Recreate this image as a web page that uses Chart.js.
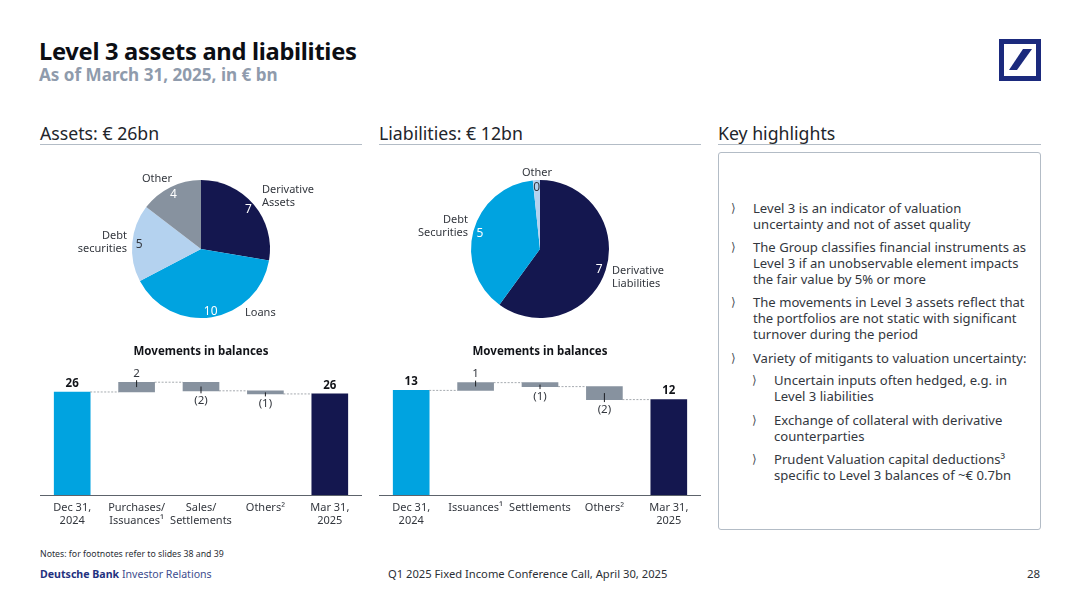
<!DOCTYPE html>
<html>
<head>
<meta charset="utf-8">
<title>Level 3 assets and liabilities</title>
<script src="https://cdn.jsdelivr.net/npm/chart.js@4"></script>
<style>
    html, body { margin: 0; padding: 0; background: #fff; }
    body { width: 1080px; height: 607px; position: relative; overflow: hidden; font-family: 'Noto Sans', sans-serif; color: #2b2f36; }
    canvas { position: absolute; }
    .txt { position: absolute; white-space: nowrap; }
    .title { left: 39px; top: 34px; font-size: 23.7px; line-height: 34px; font-weight: 700; color: #0c0e14; letter-spacing: -0.3px; }
    .subtitle { left: 39px; top: 63px; font-size: 17.1px; line-height: 24px; font-weight: 700; color: #8f9bac; }
    .head { top: 121px; font-size: 17.7px; line-height: 25px; color: #22252b; }
    .rule { position: absolute; top: 144px; height: 1px; background: #b3bcc6; }
    .box { position: absolute; left: 718px; top: 152px; width: 321px; height: 376px; border: 1px solid #b3bcc6; border-radius: 3px; }
    .hl { font-size: 13.1px; line-height: 16.2px; color: #33373e; }
    .chev { font-family: 'DejaVu Sans', sans-serif; font-size: 12px; line-height: 16px; color: #4a4f57; }
    .notes { left: 40px; top: 547px; font-size: 8.75px; line-height: 14px; }
    .brand { left: 40px; top: 566px; font-size: 10.6px; line-height: 16px; color: #3d4d8e; }
    .brand b { color: #1f3180; }
    .event { left: 388px; top: 566px; font-size: 11.2px; line-height: 16px; }
    .page { left: 1027px; top: 566px; font-size: 11.5px; line-height: 16px; }
    #logo { position: absolute; left: 999px; top: 39px; }
</style>
</head>
<body>
<div class="txt title">Level 3 assets and liabilities</div>
<div class="txt subtitle">As of March 31, 2025, in € bn</div>
<svg id="logo" width="42" height="42" viewBox="0 0 42 42">
    <rect x="2.5" y="2.5" width="37" height="37" fill="#fff" stroke="#1b2a7d" stroke-width="5"/>
    <polygon points="10,31 24,10 33,10 18,31" fill="#1b2a7d"/>
</svg>

<div class="txt head" style="left:40px">Assets: € 26bn</div>
<div class="rule" style="left:40px;width:322px"></div>
<div class="txt head" style="left:379px">Liabilities: € 12bn</div>
<div class="rule" style="left:379px;width:322px"></div>
<div class="txt head" style="left:718px">Key highlights</div>
<div class="rule" style="left:718px;width:323px"></div>
<div class="box"></div>

<canvas id="assetsPie" width="320" height="178" style="left:41px;top:160px"></canvas>
<canvas id="liabilitiesPie" width="320" height="178" style="left:380px;top:160px"></canvas>
<canvas id="assetsBars" width="322" height="192" style="left:39.5px;top:343px"></canvas>
<canvas id="liabilitiesBars" width="322" height="192" style="left:379px;top:343px"></canvas>

<div class="txt chev" style="left:731px;top:200px">⟩</div>
<div class="txt hl" style="left:753px;top:200px">Level 3 is an indicator of valuation<br>uncertainty and not of asset quality</div>
<div class="txt chev" style="left:731px;top:239px">⟩</div>
<div class="txt hl" style="left:753px;top:239px">The Group classifies financial instruments as<br>Level 3 if an unobservable element impacts<br>the fair value by 5% or more</div>
<div class="txt chev" style="left:731px;top:294px">⟩</div>
<div class="txt hl" style="left:753px;top:294px">The movements in Level 3 assets reflect that<br>the portfolios are not static with significant<br>turnover during the period</div>
<div class="txt chev" style="left:731px;top:350px">⟩</div>
<div class="txt hl" style="left:753px;top:350px">Variety of mitigants to valuation uncertainty:</div>
<div class="txt chev" style="left:752px;top:372px">⟩</div>
<div class="txt hl" style="left:774px;top:372px">Uncertain inputs often hedged, e.g. in<br>Level 3 liabilities</div>
<div class="txt chev" style="left:752px;top:412px">⟩</div>
<div class="txt hl" style="left:774px;top:412px">Exchange of collateral with derivative<br>counterparties</div>
<div class="txt chev" style="left:752px;top:451px">⟩</div>
<div class="txt hl" style="left:774px;top:451px">Prudent Valuation capital deductions³<br>specific to Level 3 balances of ~€ 0.7bn</div>

<div class="txt notes">Notes: for footnotes refer to slides 38 and 39</div>
<div class="txt brand"><b>Deutsche Bank</b> Investor Relations</div>
<div class="txt event">Q1 2025 Fixed Income Conference Call, April 30, 2025</div>
<div class="txt page">28</div>

<script>
const NAVY = '#14174f';
const CYAN = '#00a3e0';
const LIGHT = '#b4d2ef';
const GREY = '#87929f';
const FONT = "'Noto Sans', sans-serif";
const INK = '#33373e';

const assetCategories = [['Derivative', 'Assets'], ['Loans'], ['Debt', 'securities'], ['Other']];
const assetSlices = [7.2, 10.3, 4.7, 3.8];
const assetPrinted = ['7', '10', '5', '4'];
const assetColors = [NAVY, CYAN, LIGHT, GREY];
const assetPrintedColors = ['#fff', '#fff', INK, '#fff'];

const liabilityCategories = [['Derivative', 'Liabilities'], ['Debt', 'Securities'], ['Other']];
const liabilitySlices = [7.2, 4.6, 0.2];
const liabilityPrinted = ['7', '5', '0'];
const liabilityColors = [NAVY, CYAN, LIGHT];
const liabilityPrintedColors = ['#fff', '#fff', INK];

// waterfalls: running balance after each step
const assetSteps = [['Dec 31,', '2024'], ['Purchases/', 'Issuances¹'], ['Sales/', 'Settlements'], 'Others²', ['Mar 31,', '2025']];
const assetWalk = [26.4, 28.9, 26.7, 25.9, 25.9];
const assetStepLabels = ['26', '2', '(2)', '(1)', '26'];

const liabilitySteps = [['Dec 31,', '2024'], 'Issuances¹', 'Settlements', 'Others²', ['Mar 31,', '2025']];
const liabilityWalk = [12.9, 13.86, 13.37, 11.77, 11.77];
const liabilityStepLabels = ['13', '1', '(1)', '(2)', '12'];

const stepColors = [CYAN, GREY, GREY, GREY, NAVY];

// where the category names sit, px from the pie centre
const assetNameSpots = [
    { x: 61, y: -60, align: 'left' },
    { x: 44, y: 63, align: 'left' },
    { x: -74, y: -14, align: 'right' },
    { x: -44, y: -71, align: 'center' }
];
const liabilityNameSpots = [
    { x: 72, y: 21, align: 'left' },
    { x: -72, y: -30, align: 'right' },
    { x: -3, y: -77, align: 'center' }
];

const pieLabels = {
    id: 'pieLabels',
    afterDatasetsDraw(chart, args, opts) {
        const ctx = chart.ctx;
        const arcs = chart.getDatasetMeta(0).data;
        ctx.save();
        ctx.textBaseline = 'middle';
        arcs.forEach((arc, i) => {
            const mid = (arc.startAngle + arc.endAngle) / 2;
            const r = arc.outerRadius * 0.9;
            ctx.font = '12px ' + FONT;
            ctx.textAlign = 'center';
            ctx.fillStyle = opts.printedColors[i];
            ctx.fillText(opts.printed[i], arc.x + Math.cos(mid) * r, arc.y + Math.sin(mid) * r + 1);

            const spot = opts.spots[i];
            ctx.font = '11px ' + FONT;
            ctx.textAlign = spot.align;
            ctx.fillStyle = INK;
            chart.data.labels[i].forEach((line, n) => {
                ctx.fillText(line, arc.x + spot.x, arc.y + spot.y + n * 13.5 + 0.5);
            });
        });
        ctx.restore();
    }
};

const waterfallMarks = {
    id: 'waterfallMarks',
    afterDatasetsDraw(chart, args, opts) {
        const ctx = chart.ctx;
        const y = chart.scales.y;
        const bars = chart.getDatasetMeta(0).data;
        const walk = opts.walk;
        ctx.save();
        ctx.textAlign = 'center';
        ctx.textBaseline = 'middle';
        bars.forEach((bar, i) => {
            const half = bar.width / 2;
            // dashed connector to the next bar
            if (i < bars.length - 1) {
                ctx.strokeStyle = '#8f959c';
                ctx.lineWidth = 0.8;
                ctx.setLineDash([2, 1.5]);
                ctx.beginPath();
                ctx.moveTo(bar.x + half, y.getPixelForValue(walk[i]));
                ctx.lineTo(bars[i + 1].x - bars[i + 1].width / 2, y.getPixelForValue(walk[i]));
                ctx.stroke();
                ctx.setLineDash([]);
            }
            const total = i === 0 || i === bars.length - 1;
            const from = total ? 0 : walk[i - 1];
            const top = y.getPixelForValue(Math.max(from, walk[i]));
            const bottom = y.getPixelForValue(Math.min(from, walk[i]));
            const mid = (top + bottom) / 2;
            const goingDown = !total && walk[i] < from;
            ctx.fillStyle = INK;
            if (total) {
                ctx.font = 'bold 11.5px ' + FONT;
                ctx.fillStyle = '#111318';
                ctx.fillText(opts.labels[i], bar.x, top - 8.5);
            } else {
                // short leader from the middle of the bar out to the label
                ctx.strokeStyle = '#1c1f24';
                ctx.lineWidth = 1;
                ctx.beginPath();
                ctx.moveTo(bar.x, mid);
                ctx.lineTo(bar.x, goingDown ? bottom + 2.5 : top - 2);
                ctx.stroke();
                ctx.font = '11.5px ' + FONT;
                ctx.fillText(opts.labels[i], bar.x, goingDown ? bottom + 10 : top - 8.5);
            }
        });
        ctx.restore();
    }
};

function drawPie(id, categories, slices, colors, printed, printedColors, spots) {
    new Chart(document.getElementById(id), {
        type: 'pie',
        data: {
            labels: categories,
            datasets: [{ data: slices, backgroundColor: colors, borderWidth: 0 }]
        },
        options: {
            responsive: false,
            animation: false,
            layout: { padding: 20 },
            plugins: {
                legend: { display: false },
                tooltip: { enabled: false },
                pieLabels: { printed: printed, printedColors: printedColors, spots: spots }
            }
        },
        plugins: [pieLabels]
    });
}

function drawWaterfall(id, steps, walk, labels, yMax) {
    const ranges = walk.map((v, i) => (i === 0 || i === walk.length - 1) ? [0, v] : [walk[i - 1], v]);
    new Chart(document.getElementById(id), {
        type: 'bar',
        data: {
            labels: steps,
            datasets: [{ data: ranges, backgroundColor: stepColors, borderWidth: 0, barThickness: 36 }]
        },
        options: {
            responsive: false,
            animation: false,
            layout: { padding: 0 },
            plugins: {
                legend: { display: false },
                tooltip: { enabled: false },
                title: {
                    display: true,
                    text: 'Movements in balances',
                    color: '#111318',
                    font: { family: FONT, size: 11.5, weight: 'bold' },
                    padding: { top: 2, bottom: 0 }
                },
                waterfallMarks: { walk: walk, labels: labels }
            },
            scales: {
                y: { display: false, min: 0, max: yMax },
                x: {
                    grid: { display: false, drawTicks: false },
                    border: { color: '#5d636b', width: 1 },
                    afterFit(scale) { scale.height = 40; },
                    ticks: {
                        color: INK,
                        font: { family: FONT, size: 11, lineHeight: 1.18 },
                        padding: 6,
                        autoSkip: false,
                        maxRotation: 0
                    }
                }
            }
        },
        plugins: [waterfallMarks]
    });
}

drawPie('assetsPie', assetCategories, assetSlices, assetColors, assetPrinted, assetPrintedColors, assetNameSpots);
drawPie('liabilitiesPie', liabilityCategories, liabilitySlices, liabilityColors, liabilityPrinted, liabilityPrintedColors, liabilityNameSpots);
drawWaterfall('assetsBars', assetSteps, assetWalk, assetStepLabels, 34.9);
drawWaterfall('liabilitiesBars', liabilitySteps, liabilityWalk, liabilityStepLabels, 16.8);
</script>
</body>
</html>
